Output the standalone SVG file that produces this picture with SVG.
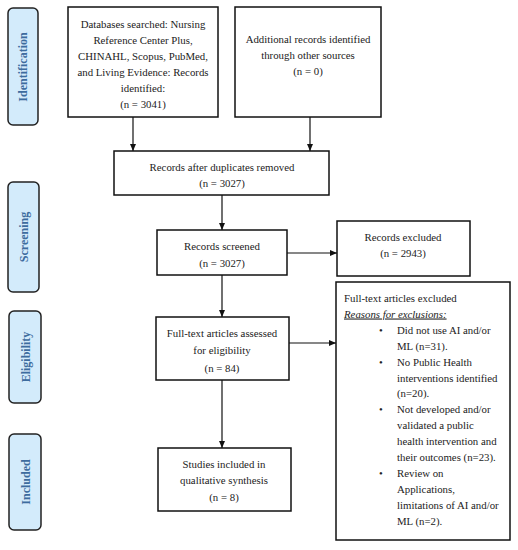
<svg xmlns="http://www.w3.org/2000/svg" width="518" height="550" viewBox="0 0 518 550">
<style>
.box{fill:#fff;stroke:#111;stroke-width:1.5}
.side{fill:#d3ebfb;stroke:#222;stroke-width:1.5}
.t{font-family:"Liberation Serif","DejaVu Serif",serif;font-size:10.8px;fill:#222}
.c{text-anchor:middle}
.st{font-family:"Liberation Serif","DejaVu Serif",serif;font-size:12px;font-weight:bold;fill:#3d6c9e;text-anchor:middle}
.ln{stroke:#111;stroke-width:1.2;fill:none;marker-end:url(#ah)}
</style>
<defs>
<marker id="ah" markerWidth="8" markerHeight="8" refX="7" refY="4" orient="auto" markerUnits="userSpaceOnUse">
<path d="M0,1 L7,4 L0,7 Z" fill="#111"/>
</marker>
</defs>
<g id="side-identification"><rect class="side" x="8" y="8" width="30" height="117" rx="5"/><text class="st" transform="translate(27,67) rotate(-90)">Identification</text></g>
<g id="side-screening"><rect class="side" x="8" y="182" width="31" height="110" rx="5"/><text class="st" transform="translate(27.5,237) rotate(-90)">Screening</text></g>
<g id="side-eligibility"><rect class="side" x="9" y="311" width="32" height="92" rx="5"/><text class="st" transform="translate(29.5,357) rotate(-90)">Eligibility</text></g>
<g id="side-included"><rect class="side" x="9" y="434" width="32" height="96" rx="5"/><text class="st" transform="translate(29.5,482) rotate(-90)">Included</text></g>

<g id="databases"><rect class="box" x="68" y="7" width="150" height="110"/>
<text class="t c" x="143" y="27.5">Databases searched: Nursing</text>
<text class="t c" x="143" y="43.5">Reference Center Plus,</text>
<text class="t c" x="143" y="59.5">CHINAHL, Scopus, PubMed,</text>
<text class="t c" x="143" y="75.5">and Living Evidence: Records</text>
<text class="t c" x="143" y="91.5">identified:</text>
<text class="t c" x="143" y="107.5">(n = 3041)</text></g>

<g id="additional"><rect class="box" x="235" y="7" width="146" height="110"/>
<text class="t c" x="308" y="42.5">Additional records identified</text>
<text class="t c" x="308" y="58.5">through other sources</text>
<text class="t c" x="308" y="74.5">(n = 0)</text></g>

<g id="duplicates"><rect class="box" x="114" y="151" width="215" height="44"/>
<text class="t c" x="222" y="170.5">Records after duplicates removed</text>
<text class="t c" x="222" y="186.5">(n = 3027)</text></g>

<g id="screened"><rect class="box" x="157" y="230" width="130" height="45"/>
<text class="t c" x="222" y="249.5">Records screened</text>
<text class="t c" x="222" y="266.5">(n = 3027)</text></g>

<g id="excluded"><rect class="box" x="337" y="221" width="133" height="55"/>
<text class="t c" x="403" y="240.5">Records excluded</text>
<text class="t c" x="403" y="256.5">(n = 2943)</text></g>

<g id="assessed"><rect class="box" x="156" y="317" width="133" height="63"/>
<text class="t c" x="222" y="336.5">Full-text articles assessed</text>
<text class="t c" x="222" y="353.5">for eligibility</text>
<text class="t c" x="222" y="371.5">(n = 84)</text></g>

<g id="included"><rect class="box" x="158" y="448" width="133" height="63"/>
<text class="t c" x="224" y="467.5">Studies included in</text>
<text class="t c" x="224" y="483.5">qualitative synthesis</text>
<text class="t c" x="224" y="500.5">(n = 8)</text></g>

<g id="fulltext-excluded"><rect class="box" x="336" y="282" width="174" height="258"/>
<text class="t" x="344" y="301.5">Full-text articles excluded</text>
<text class="t" x="344" y="317.5" font-style="italic" text-decoration="underline">Reasons for exclusions:</text>
<text class="t" x="379" y="333.5">•</text><text class="t" x="397" y="333.5">Did not use AI and/or</text>
<text class="t" x="397" y="349.5">ML (n=31).</text>
<text class="t" x="379" y="365.5">•</text><text class="t" x="397" y="365.5">No Public Health</text>
<text class="t" x="397" y="381.5">interventions identified</text>
<text class="t" x="397" y="397">(n=20).</text>
<text class="t" x="379" y="413">•</text><text class="t" x="397" y="413">Not developed and/or</text>
<text class="t" x="397" y="429">validated a public</text>
<text class="t" x="397" y="445">health intervention and</text>
<text class="t" x="397" y="461">their outcomes (n=23).</text>
<text class="t" x="379" y="477">•</text><text class="t" x="397" y="477">Review on</text>
<text class="t" x="397" y="492.5">Applications,</text>
<text class="t" x="397" y="508.5">limitations of AI and/or</text>
<text class="t" x="397" y="524.5">ML (n=2).</text></g>

<g id="connectors">
<line class="ln" x1="133" y1="117" x2="133" y2="151"/>
<line class="ln" x1="310" y1="117" x2="310" y2="151"/>
<line class="ln" x1="222" y1="195" x2="222" y2="230"/>
<line class="ln" x1="287" y1="253" x2="337" y2="253"/>
<line class="ln" x1="222" y1="275" x2="222" y2="317"/>
<line class="ln" x1="289" y1="343" x2="336" y2="343"/>
<line class="ln" x1="222" y1="380" x2="222" y2="448"/>
</g>
</svg>
